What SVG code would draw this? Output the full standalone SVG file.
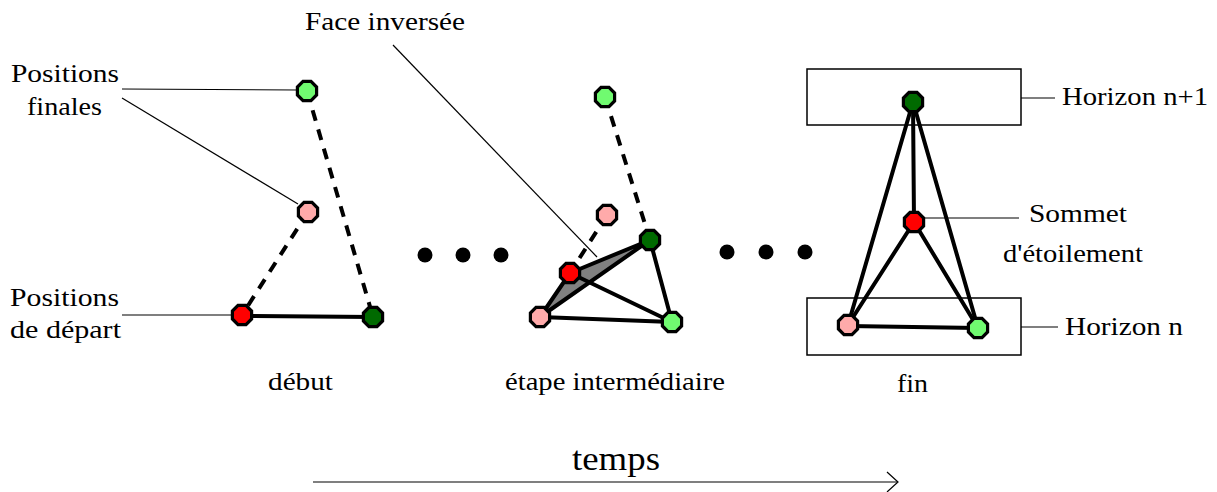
<svg xmlns="http://www.w3.org/2000/svg" xmlns:xlink="http://www.w3.org/1999/xlink" width="1217" height="492" viewBox="0 0 1217 492">
<style>
text{font-family:"Times New Roman","Liberation Serif",Times,"DejaVu Serif",serif;font-size:26px;fill:#000}
.edge{stroke:#000;stroke-width:4;fill:none;stroke-linecap:round}
.dash{stroke:#000;stroke-width:4;fill:none;stroke-dasharray:11 9}
.thin{stroke:#000;stroke-width:1.2;fill:none}
.box{stroke:#000;stroke-width:1.5;fill:none}
.node{stroke:#000;stroke-width:3.2}
.lg{fill:#70FA70}.dg{fill:#006A00}.rd{fill:#FF0000}.pk{fill:#FFAAAA}
.dot{fill:#000}
</style>
<defs>
<path id="oct" d="M-4,-9.6 L4,-9.6 L9.6,-4 L9.6,4 L4,9.6 L-4,9.6 L-9.6,4 L-9.6,-4 Z"/>
</defs>
<rect width="1217" height="492" fill="#fff"/>

<g id="connectors">
  <line class="dash" x1="307" y1="91" x2="373" y2="317"/>
  <line class="dash" x1="308" y1="212" x2="242" y2="315"/>
  <line class="edge" x1="242" y1="316" x2="373" y2="317"/>
  <line class="thin" x1="122" y1="89" x2="297" y2="90"/>
  <line class="thin" x1="122" y1="98" x2="298" y2="204"/>
  <line class="thin" x1="122" y1="315" x2="232" y2="315"/>
  <polygon points="570,273 650,240 540,317" fill="#808080" stroke="#000" stroke-width="4" stroke-linejoin="round"/>
  <line class="dash" x1="605" y1="97" x2="650" y2="240"/>
  <line class="dash" x1="607" y1="215" x2="570" y2="273"/>
  <line class="edge" x1="570" y1="273" x2="672" y2="322"/>
  <line class="edge" x1="650" y1="240" x2="672" y2="322"/>
  <line class="edge" x1="540" y1="317" x2="672" y2="322"/>
  <line class="thin" x1="393" y1="45" x2="597" y2="257"/>
  <line class="edge" x1="913" y1="102" x2="914" y2="222"/>
  <line class="edge" x1="913" y1="102" x2="848" y2="325"/>
  <line class="edge" x1="913" y1="102" x2="978" y2="328"/>
  <line class="edge" x1="914" y1="222" x2="848" y2="325"/>
  <line class="edge" x1="914" y1="222" x2="978" y2="328"/>
  <line class="edge" x1="848" y1="326" x2="978" y2="328"/>
  <line class="thin" x1="1021" y1="98" x2="1055" y2="98"/>
  <line class="thin" x1="924" y1="218" x2="1019" y2="218"/>
  <line class="thin" x1="1021" y1="327" x2="1058" y2="327"/>
  <line class="thin" x1="313" y1="482" x2="897" y2="482" stroke-width="1.5"/>
  <polyline class="thin" points="887,472 898,482 887,492" stroke-width="1.5"/>
</g>

<g id="horizon-boxes">
  <rect class="box" x="807" y="69" width="214" height="56"/>
  <rect class="box" x="807" y="298" width="214" height="57"/>
</g>

<g id="ellipsis-dots">
  <circle class="dot" cx="425" cy="255" r="7.5"/>
  <circle class="dot" cx="463" cy="255" r="7.5"/>
  <circle class="dot" cx="501" cy="255" r="7.5"/>
  <circle class="dot" cx="727" cy="252" r="7.5"/>
  <circle class="dot" cx="766" cy="252" r="7.5"/>
  <circle class="dot" cx="805" cy="252" r="7.5"/>
</g>

<g id="node-start-final-green"><use xlink:href="#oct" class="node lg" x="307" y="91"/></g>
<g id="node-start-final-pink"><use xlink:href="#oct" class="node pk" x="308" y="212"/></g>
<g id="node-start-red"><use xlink:href="#oct" class="node rd" x="242" y="315"/></g>
<g id="node-start-darkgreen"><use xlink:href="#oct" class="node dg" x="373" y="317"/></g>

<g id="node-mid-final-green"><use xlink:href="#oct" class="node lg" x="605" y="97"/></g>
<g id="node-mid-final-pink"><use xlink:href="#oct" class="node pk" x="607" y="215"/></g>
<g id="node-mid-darkgreen"><use xlink:href="#oct" class="node dg" x="650" y="240"/></g>
<g id="node-mid-red"><use xlink:href="#oct" class="node rd" x="570" y="273"/></g>
<g id="node-mid-pink"><use xlink:href="#oct" class="node pk" x="540" y="317"/></g>
<g id="node-mid-green"><use xlink:href="#oct" class="node lg" x="672" y="322"/></g>

<g id="node-end-darkgreen"><use xlink:href="#oct" class="node dg" x="913" y="102"/></g>
<g id="node-end-red"><use xlink:href="#oct" class="node rd" x="914" y="222"/></g>
<g id="node-end-pink"><use xlink:href="#oct" class="node pk" x="848" y="325"/></g>
<g id="node-end-green"><use xlink:href="#oct" class="node lg" x="978" y="328"/></g>

<g id="labels">
  <text x="11" y="82" textLength="108" lengthAdjust="spacingAndGlyphs">Positions</text>
  <text x="27" y="115" textLength="75" lengthAdjust="spacingAndGlyphs">finales</text>
  <text x="10" y="306" textLength="109" lengthAdjust="spacingAndGlyphs">Positions</text>
  <text x="10" y="338" textLength="111" lengthAdjust="spacingAndGlyphs">de départ</text>
  <text x="268" y="390" textLength="65" lengthAdjust="spacingAndGlyphs">début</text>
  <text x="305" y="30" textLength="160" lengthAdjust="spacingAndGlyphs">Face inversée</text>
  <text x="505" y="390" textLength="220" lengthAdjust="spacingAndGlyphs">étape intermédiaire</text>
  <text x="897" y="392" textLength="31" lengthAdjust="spacingAndGlyphs">fin</text>
  <text x="1062" y="105" textLength="146" lengthAdjust="spacingAndGlyphs">Horizon n+1</text>
  <text x="1029" y="222" textLength="98" lengthAdjust="spacingAndGlyphs">Sommet</text>
  <text x="1003" y="262" textLength="140" lengthAdjust="spacingAndGlyphs">d'étoilement</text>
  <text x="1065" y="335" textLength="118" lengthAdjust="spacingAndGlyphs">Horizon n</text>
  <text x="572" y="470" style="font-size:34px" textLength="88" lengthAdjust="spacingAndGlyphs">temps</text>
</g>
</svg>
